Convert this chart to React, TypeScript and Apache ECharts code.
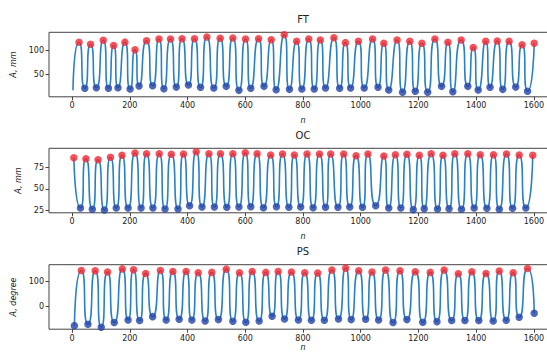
import React, { useEffect, useRef } from "react";
import * as echarts from "echarts";

const xTicks = [0, 200, 400, 600, 800, 1000, 1200, 1400, 1600];

// FT
const ftStart = [3, 17];
const ftPeakX = [24, 64, 108, 144, 183, 218, 258, 301, 341, 381, 424, 467, 513, 557, 601, 646, 690, 735, 778, 820, 860, 907, 947, 992, 1041, 1080, 1126, 1170, 1212, 1257, 1302, 1348, 1390, 1433, 1473, 1514, 1559, 1601];
const ftPeakY = [116.7, 112.5, 121, 110, 117, 101, 120, 123.5, 123.5, 124, 124, 127.7, 125, 125.6, 123.5, 124, 122, 132.5, 118.7, 123.5, 121.5, 126, 116, 118.7, 123.5, 114.6, 121.5, 118.7, 114.6, 123.5, 116.7, 121.5, 106, 118.7, 119.4, 118.7, 111.7, 114.6];
const ftTroughX = [44, 84, 126, 159, 201, 232, 279, 318, 361, 403, 445, 491, 534, 578, 619, 665, 707, 753, 796, 839, 878, 927, 965, 1012, 1060, 1097, 1145, 1189, 1232, 1280, 1319, 1371, 1407, 1448, 1492, 1537, 1578];
const ftTroughY = [21, 22, 21, 22, 19.4, 25.6, 26.3, 20, 23.5, 27.7, 23, 21.5, 25, 16.7, 21, 25, 18, 18.8, 19.4, 19.4, 21.5, 21, 21.5, 21.5, 23, 17.3, 13, 15, 13, 25, 13.8, 25, 17.3, 23, 18.8, 23.5, 15];

// OC
const ocPeakX = [6, 48, 90, 133, 173, 218, 258, 302, 344, 386, 430, 474, 514, 557, 600, 641, 688, 729, 770, 814, 857, 896, 941, 984, 1025, 1080, 1120, 1160, 1203, 1244, 1285, 1326, 1371, 1414, 1460, 1505, 1549, 1596];
const ocPeakY = [86.8, 85.6, 84.4, 87.3, 89.6, 92.3, 91.5, 91.5, 90.8, 91.2, 93.9, 91.5, 91.5, 91.5, 92.7, 91.5, 90, 91.2, 90, 91.2, 91.2, 91.2, 91.2, 89.2, 91.2, 88.8, 90.3, 90.8, 89.6, 91.5, 89.6, 91.5, 91.5, 90.3, 90.3, 91.2, 90, 89.6];
const ocTroughX = [29, 70, 112, 153, 194, 239, 280, 322, 367, 407, 450, 493, 536, 578, 619, 663, 708, 751, 792, 835, 878, 921, 962, 1006, 1052, 1097, 1139, 1182, 1220, 1266, 1306, 1349, 1393, 1437, 1480, 1526, 1572];
const ocTroughY = [27.5, 26, 25.1, 27.5, 27.5, 27.5, 27.5, 26.3, 26.3, 30.2, 28.7, 28.7, 28.3, 28.7, 29, 27.8, 29, 28.3, 28.7, 27.8, 28.3, 28.3, 28.7, 28.3, 30.2, 27.5, 27.5, 25.5, 26.7, 26.3, 26.7, 26, 27.5, 27.1, 26, 27.1, 27.5];

// PS
const psPeakX = [32, 80, 123, 174, 213, 255, 306, 349, 395, 437, 484, 534, 580, 624, 671, 714, 760, 806, 851, 900, 948, 993, 1039, 1086, 1136, 1189, 1241, 1289, 1338, 1385, 1434, 1480, 1528, 1578];
const psPeakY = [145.7, 144, 139, 152, 148, 133.6, 145.7, 141.7, 141.7, 136, 137.7, 151, 136, 141.7, 137.7, 141.7, 139, 136, 134.8, 147, 155, 144, 139, 147, 144, 140, 137.7, 147, 132, 140, 133.6, 143, 136, 153.8];
const psTroughX = [8, 55, 101, 146, 194, 234, 279, 326, 371, 415, 461, 507, 557, 602, 648, 693, 736, 784, 829, 874, 923, 967, 1017, 1062, 1112, 1160, 1215, 1264, 1315, 1361, 1409, 1459, 1504, 1549, 1601];
const psTroughY = [-78.5, -73, -85, -66, -55.5, -58, -42, -55.5, -52.6, -55.5, -59.5, -54, -60.7, -64.8, -59.5, -40.5, -51.4, -55.5, -56.7, -56.7, -51.4, -54, -52.6, -55.5, -66, -54, -64.8, -62.3, -58, -58, -58, -59.5, -56.7, -44.5, -28.3];

const titles = ["FT", "OC", "PS"];
const yNames = ["A, mm", "A, mm", "A, degree"];
const yTicks = [[50, 100], [25, 50, 75], [0, 100]];
const yRanges = [[3.3, 137.5], [21.8, 97.9], [-93, 169]];

const LINE = "#2a80c4";
const RED = "#f22630";
const BLUE = "#2242a8";
const AX = "#444";

function pairs(xs: number[], ys: number[]) {
  return xs.map((x, i) => [x, ys[i]]);
}

function lineData(peaks: number[][], troughs: number[][], extra: number[][]) {
  return [...extra, ...peaks, ...troughs].sort((a, b) => a[0] - b[0]);
}

export default function App() {
  const ref = useRef<HTMLDivElement>(null);
  useEffect(() => {
    if (!ref.current) return;
    const chart = echarts.init(ref.current, undefined, { renderer: "svg" });
    const sets = [
      { p: pairs(ftPeakX, ftPeakY), t: pairs(ftTroughX, ftTroughY), e: [ftStart] },
      { p: pairs(ocPeakX, ocPeakY), t: pairs(ocTroughX, ocTroughY), e: [] },
      { p: pairs(psPeakX, psPeakY), t: pairs(psTroughX, psTroughY), e: [] },
    ];
    const tops = [32.3, 148.3, 264.7];
    const nameGaps = [20, 20, 13];
    const grids = tops.map((top) => ({
      left: 49,
      top,
      width: 508,
      height: 64.5,
      show: true,
      borderColor: AX,
      borderWidth: 1,
      backgroundColor: "transparent",
      outerBoundsMode: "none",
      containLabel: false,
    }));
    const font = "DejaVu Sans";
    const xAxes = tops.map((_, i) => ({
      type: "value",
      gridIndex: i,
      position: "bottom",
      min: -80,
      max: 1680,
      name: "n",
      nameLocation: "middle",
      nameGap: nameGaps[i],
      nameTextStyle: { fontFamily: font, fontSize: 8, fontStyle: "italic", color: "#222" },
      axisLine: { show: false, onZero: false },
      axisTick: { show: true, length: 3.5, customValues: xTicks, lineStyle: { color: AX } },
      axisLabel: {
        customValues: xTicks,
        formatter: (v: number) => String(v),
        fontFamily: font,
        fontSize: 8,
        color: "#222",
        margin: 5,
      },
      splitLine: { show: false },
    }));
    const yAxes = tops.map((_, i) => ({
      type: "value",
      gridIndex: i,
      position: "left",
      min: yRanges[i][0],
      max: yRanges[i][1],
      name: yNames[i],
      nameLocation: "middle",
      nameRotate: 90,
      nameGap: 27,
      nameTextStyle: { fontFamily: font, fontSize: 8, fontStyle: "italic", color: "#222" },
      axisLine: { show: false, onZero: false },
      axisTick: { show: true, length: 3.5, customValues: yTicks[i], lineStyle: { color: AX } },
      axisLabel: {
        customValues: yTicks[i],
        formatter: (v: number) => String(v),
        fontFamily: font,
        fontSize: 8,
        color: "#222",
        margin: 5,
      },
      splitLine: { show: false },
    }));
    const series: any[] = [];
    sets.forEach((s, i) => {
      series.push({
        type: "line",
        xAxisIndex: i,
        yAxisIndex: i,
        data: lineData(s.p, s.t, s.e),
        smooth: 0.9,
        showSymbol: false,
        lineStyle: { color: LINE, width: 1.6 },
        z: 2,
      });
      series.push({
        type: "scatter",
        xAxisIndex: i,
        yAxisIndex: i,
        data: s.p,
        symbolSize: 7.5,
        itemStyle: { color: RED },
        z: 3,
      });
      series.push({
        type: "scatter",
        xAxisIndex: i,
        yAxisIndex: i,
        data: s.t,
        symbolSize: 7.5,
        itemStyle: { color: BLUE },
        z: 3,
      });
    });
    chart.setOption({
      animation: false,
      backgroundColor: "#fff",
      grid: grids,
      xAxis: xAxes,
      yAxis: yAxes,
      series,
      graphic: titles.map((t, i) => ({
        type: "text",
        x: 303,
        y: tops[i] - 13,
        style: {
          text: t,
          fill: "#222",
          font: `10px "${font}"`,
          textAlign: "center",
          textVerticalAlign: "middle",
        },
      })),
    });
    return () => chart.dispose();
  }, []);
  return (
    <div
      ref={ref}
      style={{ position: "fixed", left: 0, top: 0, width: 547, height: 354 }}
    />
  );
}
